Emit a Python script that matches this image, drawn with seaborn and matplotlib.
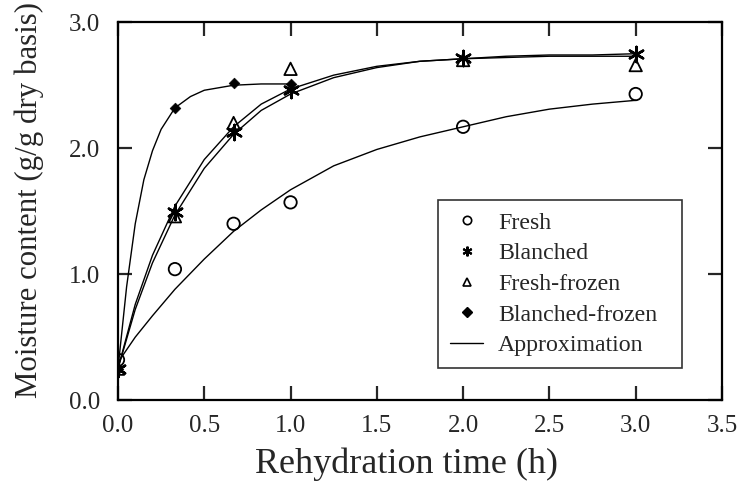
import matplotlib
matplotlib.use("Agg")
import matplotlib.pyplot as plt
from matplotlib.lines import Line2D
import seaborn as sns
import pandas as pd

# measured points
t_points = [0.0, 0.33, 0.67, 1.0, 2.0, 3.0]
fresh = [0.32, 1.04, 1.40, 1.57, 2.17, 2.43]
blanched = [0.25, 1.49, 2.13, 2.46, 2.72, 2.75]
fresh_frozen = [0.25, 1.46, 2.20, 2.63, 2.70, 2.66]
t_points_bf = [0.0, 0.33, 0.67, 1.0]
blanched_frozen = [0.25, 2.32, 2.52, 2.51]

# approximation curves
t_curve = [0.0, 0.1, 0.2, 0.33, 0.5, 0.67, 0.83, 1.0, 1.25, 1.5, 1.75, 2.0, 2.25, 2.5, 2.75, 3.0]
fresh_fit = [0.30, 0.50, 0.67, 0.88, 1.12, 1.34, 1.51, 1.67, 1.86, 1.99, 2.09, 2.17, 2.25, 2.31, 2.35, 2.38]
blanched_fit = [0.25, 0.72, 1.09, 1.47, 1.84, 2.11, 2.30, 2.43, 2.56, 2.64, 2.69, 2.71, 2.73, 2.74, 2.74, 2.75]
fresh_frozen_fit = [0.25, 0.76, 1.15, 1.54, 1.91, 2.17, 2.35, 2.47, 2.58, 2.65, 2.69, 2.71, 2.72, 2.73, 2.73, 2.73]
t_curve_bf = [0.0, 0.05, 0.1, 0.15, 0.2, 0.25, 0.33, 0.42, 0.5, 0.67, 0.83, 1.0]
blanched_frozen_fit = [0.25, 0.90, 1.40, 1.75, 1.98, 2.15, 2.32, 2.41, 2.46, 2.50, 2.51, 2.51]

labels = ["Fresh", "Blanched", "Fresh-frozen", "Blanched-frozen"]
x_ticks = [0.0, 0.5, 1.0, 1.5, 2.0, 2.5, 3.0, 3.5]
y_ticks = [0.0, 1.0, 2.0, 3.0]

sns.set_style("ticks")
plt.rcParams['font.family'] = ['Liberation Serif', 'DejaVu Serif']
plt.rcParams['mathtext.fontset'] = 'stix'

fig = plt.figure(figsize=(7.42, 4.94), dpi=100)
ax = fig.add_axes([0.159, 0.190, 0.814, 0.765])

curves = [(t_curve, fresh_fit), (t_curve, blanched_fit), (t_curve, fresh_frozen_fit), (t_curve_bf, blanched_frozen_fit)]
for tx, vy in curves:
    sns.lineplot(x=tx, y=vy, ax=ax, color='black', lw=1.0, sort=False, estimator=None, legend=False)

points = [(t_points, fresh), (t_points, blanched), (t_points, fresh_frozen), (t_points_bf, blanched_frozen)]
styles = [
    dict(marker='o', s=80, facecolor='none', edgecolor='black', linewidth=1.3),
    dict(marker=(6, 2, 0), s=120, color='black', linewidth=1.8),
    dict(marker='^', s=80, facecolor='none', edgecolor='black', linewidth=1.3),
    dict(marker='D', s=30, color='black', edgecolor='black'),
]
for (tx, vy), st in zip(points, styles):
    sns.scatterplot(x=tx, y=vy, ax=ax, legend=False, zorder=3, **st)

ax.set_xlim(0, 3.5)
ax.set_ylim(0, 3.0)
ax.set_xticks(x_ticks)
ax.set_xticklabels([f"{v:.1f}" for v in x_ticks])
ax.set_yticks(y_ticks)
ax.set_yticklabels([f"{v:.1f}" for v in y_ticks])
ax.tick_params(direction='in', length=10, width=1.6, labelsize=18, top=True, right=True)
ax.tick_params(axis='x', pad=11)
ax.tick_params(axis='y', pad=13)
for sp in ax.spines.values():
    sp.set_linewidth(1.6)
    sp.set_color('black')

ax.set_xlabel("Rehydration time (h)", fontsize=26, labelpad=7)
ax.set_ylabel("Moisture content (g/g dry basis)", fontsize=22.2, labelpad=18)
ax.xaxis.label.set_x(0.478)
ax.yaxis.label.set_y(0.529)

handles = [
    Line2D([], [], ls='none', marker='o', mfc='none', mec='black', ms=6, mew=1.2),
    Line2D([], [], ls='none', marker=(6, 2, 0), color='black', ms=7, mew=1.5),
    Line2D([], [], ls='none', marker='^', mfc='none', mec='black', ms=6, mew=1.2),
    Line2D([], [], ls='none', marker='D', color='black', ms=5),
    Line2D([], [], color='black', lw=1.0),
]
leg = ax.legend(handles, labels + ["Approximation"], loc='lower left',
                bbox_to_anchor=(0.530, 0.085, 0.404, 0.44), mode='expand',
                fontsize=17.2, frameon=True,
                fancybox=False, edgecolor='black', handlelength=1.4,
                labelspacing=0.37, borderpad=0.5, handletextpad=0.6, borderaxespad=0)
leg.get_frame().set_linewidth(1.2)

fig.savefig("out.png", dpi=100)
